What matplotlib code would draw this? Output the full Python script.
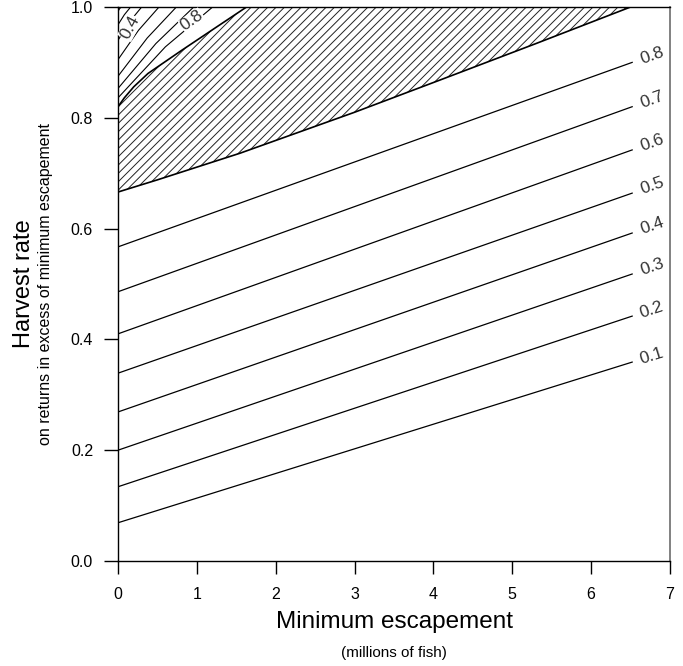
import numpy as np
import matplotlib
matplotlib.use('Agg')
import matplotlib.pyplot as plt

plt.rcParams['font.family'] = ['Liberation Sans', 'DejaVu Sans']
plt.rcParams['hatch.linewidth'] = 0.7

# straight contours below the hatched zone: level, y at x=0, y at line end
levels = [0.1, 0.2, 0.3, 0.4, 0.5, 0.6, 0.7, 0.8]
y_start = [0.069, 0.134, 0.200, 0.269, 0.339, 0.410, 0.486, 0.567]
y_end = [0.359, 0.442, 0.518, 0.592, 0.664, 0.742, 0.820, 0.900]
x_end = 6.52

# hatched zone boundaries
lower_x = [0.0, 0.5, 1.546, 3.0, 4.08, 5.3, 6.5]
lower_y = [0.666, 0.688, 0.736, 0.810, 0.868, 0.934, 1.0]
upper_x = [0.0, 0.08, 0.2, 0.38, 0.81, 1.23, 1.63]
upper_y = [0.820, 0.836, 0.856, 0.880, 0.922, 0.962, 1.0]

# contours in the top-left corner (start on y axis, mid point, end on top)
corner_levels = [0.2, 0.3, 0.4, 0.5, 0.6, 0.7, 0.8]
corner_y0 = [0.992, 0.968, 0.940, 0.905, 0.875, 0.853, 0.836]
corner_xm = [0.02, 0.08, 0.15, 0.26, 0.37, 0.48, 0.60]
corner_ym = [0.997, 0.986, 0.974, 0.958, 0.944, 0.934, 0.928]
corner_xt = [0.04, 0.16, 0.30, 0.52, 0.74, 0.96, 1.20]
corner_labels = {0.4: (0.15, 0.963, 62), 0.8: (0.94, 0.975, 35)}

fig = plt.figure(figsize=(6.83, 6.66), dpi=100)
ax = fig.add_axes([0.1728, 0.1577, 0.8082, 0.8318])
ax.set_xlim(0, 7)
ax.set_ylim(0, 1)

# hatched region
poly_x = lower_x + upper_x[::-1]
poly_y = lower_y + upper_y[::-1]
ax.fill(poly_x, poly_y, facecolor='white', edgecolor='#222222', hatch='////', linewidth=0)
ax.plot(lower_x, lower_y, color='black', lw=1.2)
ax.plot(upper_x, upper_y, color='black', lw=1.2)

# straight contours with labels at the right end
for lev, y0, y1 in zip(levels, y_start, y_end):
    ax.plot([0, x_end], [y0, y1], color='black', lw=0.9)
    slope = (y1 - y0) / x_end
    xl = 6.77
    yl = y1 + slope * (xl - x_end)
    p0 = ax.transData.transform((0, y0))
    p1 = ax.transData.transform((x_end, y1))
    ang = np.degrees(np.arctan2(p1[1] - p0[1], p1[0] - p0[0]))
    ax.text(xl, yl, f'{lev:.1f}', rotation=ang, ha='center', va='center',
            rotation_mode='anchor', fontsize=12.5, color='#333333')

# corner contours
for lev, y0, xm, ym, xt in zip(corner_levels, corner_y0, corner_xm, corner_ym, corner_xt):
    ax.plot([0, xm, xt], [y0, ym, 1.0], color='black', lw=0.8)
    if lev in corner_labels:
        lx, ly, rot = corner_labels[lev]
        ax.text(lx, ly, f'{lev:.1f}', rotation=rot, ha='center', va='center',
                rotation_mode='anchor', fontsize=12.5, color='#333333',
                bbox=dict(facecolor='white', edgecolor='none', pad=0.3))

ax.set_xticks(range(8))
ax.set_yticks([0.0, 0.2, 0.4, 0.6, 0.8, 1.0])
ax.set_yticklabels(['0.0', '0.2', '0.4', '0.6', '0.8', '1.0'])
ax.tick_params(axis='x', direction='out', length=9, width=1, pad=10, labelsize=11.5)
ax.tick_params(axis='y', direction='out', length=10, width=1, pad=8, labelsize=11.5)
for s in ['left', 'bottom', 'top']:
    ax.spines[s].set_linewidth(1)
ax.spines['right'].set_color('#777777')
ax.spines['right'].set_linewidth(1.3)

fig.text(0.577, 0.066, 'Minimum escapement', ha='center', va='center', fontsize=17.5)
fig.text(0.577, 0.020, '(millions of fish)', ha='center', va='center', fontsize=11)
fig.text(0.035, 0.574, 'Harvest rate', ha='center', va='center', rotation=90, fontsize=17)
fig.text(0.066, 0.574, 'on returns in excess of minimum escapement', ha='center',
         va='center', rotation=90, fontsize=11.5)

plt.savefig('out.png', dpi=100)
